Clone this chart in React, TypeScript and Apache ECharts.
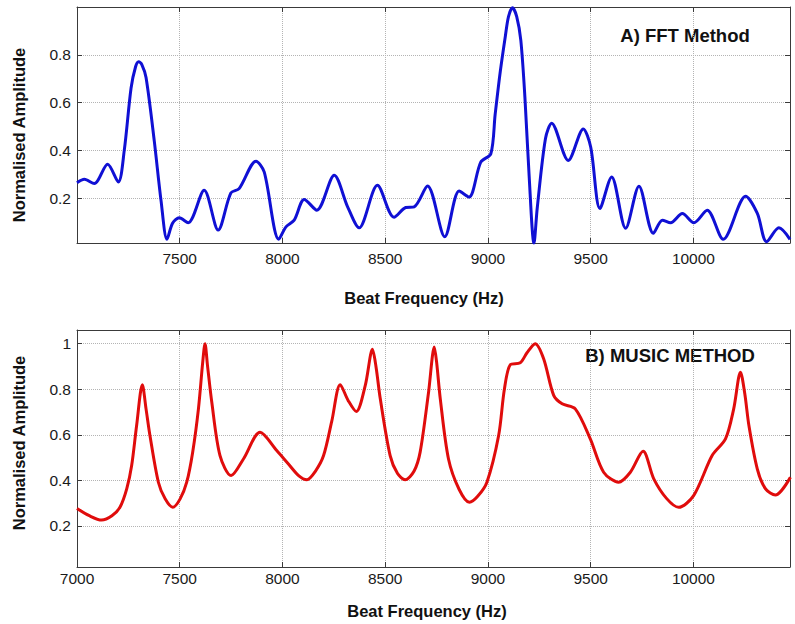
import React, { useEffect, useRef } from "react";
import * as echarts from "echarts";

// FFT method (panel A)
const fftFreq = [
  7000, 7036, 7084, 7149, 7201, 7230, 7263, 7285, 7300, 7315, 7336, 7376, 7409, 7438,
  7465, 7498, 7541, 7619, 7687, 7749, 7789, 7871, 7911, 7982, 8017, 8057, 8106, 8167,
  8252, 8317, 8373, 8462, 8543, 8600, 8641, 8706, 8790, 8860, 8908, 8965, 9014, 9035,
  9060, 9085, 9100, 9119, 9140, 9160, 9180, 9200, 9224, 9240, 9280, 9310, 9391, 9464,
  9500, 9545, 9602, 9670, 9735, 9805, 9849, 9889, 9946, 10002, 10067, 10145, 10254,
  10311, 10356, 10416, 10470,
];
const fftAmp = [
  0.265, 0.279, 0.261, 0.342, 0.268, 0.4, 0.66, 0.75, 0.771, 0.76, 0.705, 0.44, 0.19, 0.028,
  0.095, 0.118, 0.097, 0.233, 0.067, 0.222, 0.24, 0.355, 0.31, 0.028, 0.08, 0.108, 0.195, 0.15,
  0.296, 0.164, 0.076, 0.254, 0.12, 0.161, 0.164, 0.251, 0.039, 0.23, 0.205, 0.351, 0.386, 0.55,
  0.73, 0.88, 0.96, 0.997, 0.96, 0.86, 0.62, 0.3, 0.011, 0.16, 0.45, 0.514, 0.358, 0.49,
  0.414, 0.157, 0.289, 0.074, 0.25, 0.053, 0.108, 0.097, 0.136, 0.097, 0.15, 0.028, 0.208,
  0.136, 0.018, 0.076, 0.028,
];

// MUSIC method (panel B)
const musicFreq = [
  7000, 7060, 7120, 7170, 7209, 7242, 7266, 7290, 7318, 7336, 7355, 7396, 7429, 7466,
  7502, 7534, 7563, 7591, 7612, 7623, 7635, 7656, 7696, 7750, 7810, 7891, 7972, 8029,
  8080, 8119, 8160, 8200, 8240, 8281, 8320, 8359, 8403, 8438, 8455, 8476, 8524, 8560,
  8597, 8640, 8670, 8711, 8739, 8750, 8768, 8808, 8860, 8910, 8950, 8995, 9052, 9080,
  9109, 9157, 9190, 9230, 9271, 9320, 9361, 9425, 9498, 9563, 9636, 9693, 9755, 9807,
  9870, 9928, 10001, 10091, 10156, 10196, 10229, 10250, 10270, 10311, 10351, 10399, 10472,
];
const musicAmp = [
  0.277, 0.245, 0.226, 0.245, 0.282, 0.363, 0.465, 0.64, 0.82, 0.714, 0.597, 0.392, 0.319, 0.282,
  0.319, 0.392, 0.524, 0.714, 0.92, 1.0, 0.905, 0.743, 0.509, 0.421, 0.494, 0.611, 0.531, 0.472,
  0.42, 0.403, 0.44, 0.509, 0.66, 0.82, 0.75, 0.702, 0.817, 0.975, 0.9, 0.758, 0.509, 0.43,
  0.403, 0.44, 0.524, 0.787, 0.985, 0.92, 0.758, 0.494, 0.36, 0.304, 0.33, 0.392, 0.597, 0.8,
  0.908, 0.916, 0.96, 1.0, 0.934, 0.773, 0.736, 0.714, 0.582, 0.436, 0.392, 0.436, 0.528, 0.407,
  0.32, 0.282, 0.333, 0.509, 0.582, 0.714, 0.875, 0.78, 0.641, 0.45, 0.363, 0.336, 0.414,
];

// Tick values
const topXTicks = [7000, 7500, 8000, 8500, 9000, 9500, 10000];
const topXLabels = [7500, 8000, 8500, 9000, 9500, 10000];
const topYTicks = [0.2, 0.4, 0.6, 0.8, 1.0];
const topYLabels = [0.2, 0.4, 0.6, 0.8];
const botXTicks = [7000, 7500, 8000, 8500, 9000, 9500, 10000];
const botXLabels = [7000, 7500, 8000, 8500, 9000, 9500, 10000];
const botYTicks = [0.2, 0.4, 0.6, 0.8, 1];
const botYLabels = [0.2, 0.4, 0.6, 0.8, 1];

const FONT = "'Liberation Sans', Arial, Helvetica, sans-serif";

export default function App() {
  const ref = useRef<HTMLDivElement>(null);

  useEffect(() => {
    if (!ref.current) return;
    const chart = echarts.init(ref.current, null, { renderer: "svg" });

    const axisLineStyle = { color: "#3a3a3a", width: 1 };
    const split = { show: true, lineStyle: { type: "dotted" as const, color: "#b4b4b4", width: 1 } };
    const tickStyle = { show: true, inside: true, length: 5, lineStyle: { color: "#3a3a3a", width: 1 } };
    const labelBase = { color: "#1a1a1a", fontSize: 15.5, fontFamily: FONT };

    const X_MIN = 7000;
    const X_MAX = 10470;

    const mkX = (gridIndex: number, ticks: number[], labels: number[], margin: number) => [
      {
        type: "value",
        gridIndex,
        min: X_MIN,
        max: X_MAX,
        position: "bottom",
        axisLine: { show: true, lineStyle: axisLineStyle },
        axisTick: { ...tickStyle, customValues: ticks },
        axisLabel: { ...labelBase, margin, customValues: labels, formatter: (v: number) => String(v) },
        splitLine: split,
      },
      {
        type: "value",
        gridIndex,
        min: X_MIN,
        max: X_MAX,
        position: "top",
        axisLine: { show: true, lineStyle: axisLineStyle },
        axisTick: { ...tickStyle, customValues: ticks },
        axisLabel: { show: false },
        splitLine: { show: false },
      },
    ];

    const mkY = (gridIndex: number, min: number, max: number, ticks: number[], labels: number[]) => [
      {
        type: "value",
        gridIndex,
        min,
        max,
        position: "left",
        axisLine: { show: true, lineStyle: axisLineStyle },
        axisTick: { ...tickStyle, customValues: ticks },
        axisLabel: { ...labelBase, margin: 6, customValues: labels, formatter: (v: number) => String(v) },
        splitLine: split,
      },
      {
        type: "value",
        gridIndex,
        min,
        max,
        position: "right",
        axisLine: { show: true, lineStyle: axisLineStyle },
        axisTick: { ...tickStyle, customValues: ticks },
        axisLabel: { show: false },
        splitLine: { show: false },
      },
    ];

    const titleFont = `bold 16.5px ${FONT}`;
    const annFont = `bold 18.5px ${FONT}`;
    const txt = (text: string, x: number, y: number, font: string, rotation = 0) => ({
      type: "text",
      x,
      y,
      rotation,
      style: {
        text,
        font,
        fill: "#111",
        align: "center",
        verticalAlign: "middle",
        textAlign: "center",
        textVerticalAlign: "middle",
      },
    });

    chart.setOption({
      animation: false,
      backgroundColor: "#ffffff",
      textStyle: { fontFamily: FONT },
      grid: [
        { left: 77, top: 7, width: 713, height: 236, containLabel: false },
        { left: 77, top: 330, width: 713, height: 237, containLabel: false },
      ],
      xAxis: [...mkX(0, topXTicks, topXLabels, 7), ...mkX(1, botXTicks, botXLabels, 3)],
      yAxis: [...mkY(0, 0.0125, 1.0, topYTicks, topYLabels), ...mkY(1, 0.02, 1.06, botYTicks, botYLabels)],
      series: [
        {
          type: "line",
          xAxisIndex: 0,
          yAxisIndex: 0,
          data: fftFreq.map((f, i) => [f, fftAmp[i]]),
          showSymbol: false,
          smooth: 0.3,
          lineStyle: { color: "#1010d4", width: 3 },
          itemStyle: { color: "#1010d4" },
          clip: true,
        },
        {
          type: "line",
          xAxisIndex: 2,
          yAxisIndex: 2,
          data: musicFreq.map((f, i) => [f, musicAmp[i]]),
          showSymbol: false,
          smooth: 0.3,
          lineStyle: { color: "#e00c0c", width: 3 },
          itemStyle: { color: "#e00c0c" },
          clip: true,
        },
      ],
      graphic: [
        txt("Normalised Amplitude", 19, 135, titleFont, Math.PI / 2),
        txt("Normalised Amplitude", 19, 443, titleFont, Math.PI / 2),
        txt("Beat Frequency (Hz)", 424, 298, titleFont),
        txt("Beat Frequency (Hz)", 427, 611, titleFont),
        txt("A) FFT Method", 685, 35, annFont),
        txt("B) MUSIC METHOD", 670, 355, annFont),
      ],
    });

    return () => chart.dispose();
  }, []);

  return (
    <div
      ref={ref}
      style={{ position: "absolute", left: 0, top: 0, width: 795, height: 624 }}
    />
  );
}
